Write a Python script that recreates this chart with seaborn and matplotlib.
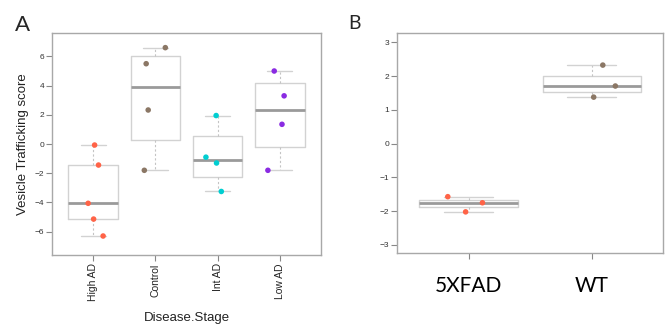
"""
Vesicle trafficking score by disease stage (A) and genotype (B).
"""

import numpy as np
import pandas as pd
import matplotlib
matplotlib.use('Agg')
import matplotlib.pyplot as plt
import seaborn as sns


# Panel A - human samples
stages = ['High AD', 'Control', 'Int AD', 'Low AD']
high_ad = [-0.07, -1.44, -4.06, -5.14, -6.3]
control = [6.6, 5.5, 2.33, -1.8]
int_ad = [1.95, -0.9, -1.3, -3.25]
low_ad = [5.0, 3.3, 1.35, -1.8]
stage_colors = ['#ff6347', '#8b7765', '#00ced1', '#8a2be2']

# Panel B - mouse model
genotypes = ['5XFAD', 'WT']
fad = [-1.57, -1.75, -2.02]
wt = [2.33, 1.71, 1.38]
genotype_colors = ['#ff6347', '#8b7765']


def fivenum(vals):
    # Tukey five-number summary, same as R's fivenum()
    v = np.sort(np.asarray(vals, dtype=float))
    n = len(v)
    n4 = np.floor((n + 3) / 2) / 2
    d = np.array([1, n4, (n + 1) / 2, n + 1 - n4, n]) - 1
    return 0.5 * (v[np.floor(d).astype(int)] + v[np.ceil(d).astype(int)])


def draw_boxes(ax, groups):
    stats = []
    for g in groups:
        lo, q1, med, q3, hi = fivenum(g)
        stats.append(dict(whislo=lo, q1=q1, med=med, q3=q3, whishi=hi, fliers=[]))
    ax.bxp(stats, positions=range(len(groups)), widths=0.8, capwidths=0.4,
           showfliers=False, manage_ticks=False,
           boxprops=dict(color='#d2d2d2', lw=1),
           medianprops=dict(color='#9a9a9a', lw=2),
           whiskerprops=dict(color='#c4c4c4', lw=0.8, ls=(0, (2, 2))),
           capprops=dict(color='#d2d2d2', lw=1))


def style_axes(ax):
    ax.grid(False)
    for s in ax.spines.values():
        s.set_color('#a8a8a8')
        s.set_linewidth(1)
    ax.tick_params(bottom=True, left=True, direction='out', length=4, width=0.8,
                   color='#888888', labelsize=6, labelcolor='#333333', pad=2)


def main():
    sns.set_theme(style='white')
    plt.rcParams['font.family'] = ['Liberation Sans', 'DejaVu Sans']

    fig = plt.figure(figsize=(6.71, 3.24), dpi=100)
    ax_a = fig.add_axes([0.078, 0.213, 0.400, 0.685])
    ax_b = fig.add_axes([0.592, 0.218, 0.3964, 0.679])

    # Panel A
    groups_a = [high_ad, control, int_ad, low_ad]
    df_a = pd.DataFrame({
        'Disease.Stage': np.repeat(stages, [len(g) for g in groups_a]),
        'score': np.concatenate(groups_a),
    })
    draw_boxes(ax_a, groups_a)
    np.random.seed(3)
    sns.stripplot(data=df_a, x='Disease.Stage', y='score', hue='Disease.Stage',
                  order=stages, hue_order=stages, palette=stage_colors,
                  jitter=0.2, size=4, linewidth=0, legend=False, zorder=3, ax=ax_a)
    ax_a.set_xlim(-0.66, 3.66)
    ax_a.set_ylim(-7.6, 7.6)
    ax_a.set_yticks([-6, -4, -2, 0, 2, 4, 6])
    style_axes(ax_a)
    ax_a.set_xticks(range(len(stages)))
    ax_a.set_xticklabels(stages, rotation=90, fontsize=7.5, color='#222222')
    ax_a.set_ylabel('Vesicle Trafficking score', fontsize=9.5, color='#222222', labelpad=4)
    ax_a.set_xlabel('Disease.Stage', fontsize=9.5, color='#222222', labelpad=8)

    # Panel B
    groups_b = [fad, wt]
    df_b = pd.DataFrame({
        'genotype': np.repeat(genotypes, [len(g) for g in groups_b]),
        'score': np.concatenate(groups_b),
    })
    draw_boxes(ax_b, groups_b)
    np.random.seed(7)
    sns.stripplot(data=df_b, x='genotype', y='score', hue='genotype',
                  order=genotypes, hue_order=genotypes, palette=genotype_colors,
                  jitter=0.2, size=4, linewidth=0, legend=False, zorder=3, ax=ax_b)
    ax_b.set_xlim(-0.58, 1.58)
    ax_b.set_ylim(-3.25, 3.27)
    ax_b.set_yticks([-3, -2, -1, 0, 1, 2, 3])
    style_axes(ax_b)
    ax_b.set_xticks(range(len(genotypes)))
    ax_b.set_xticklabels(genotypes, fontsize=15, color='black', family=['Lato', 'DejaVu Sans'])
    ax_b.tick_params(axis='x', pad=12)
    ax_b.set_xlabel('')
    ax_b.set_ylabel('')

    # panel letters
    fig.text(0.022, 0.905, 'A', fontsize=16, family=['Lato', 'DejaVu Sans'])
    fig.text(0.519, 0.91, 'B', fontsize=14, family=['Lato', 'DejaVu Sans'])

    fig.savefig('out.png', dpi=100)
    plt.close(fig)


if __name__ == '__main__':
    main()
